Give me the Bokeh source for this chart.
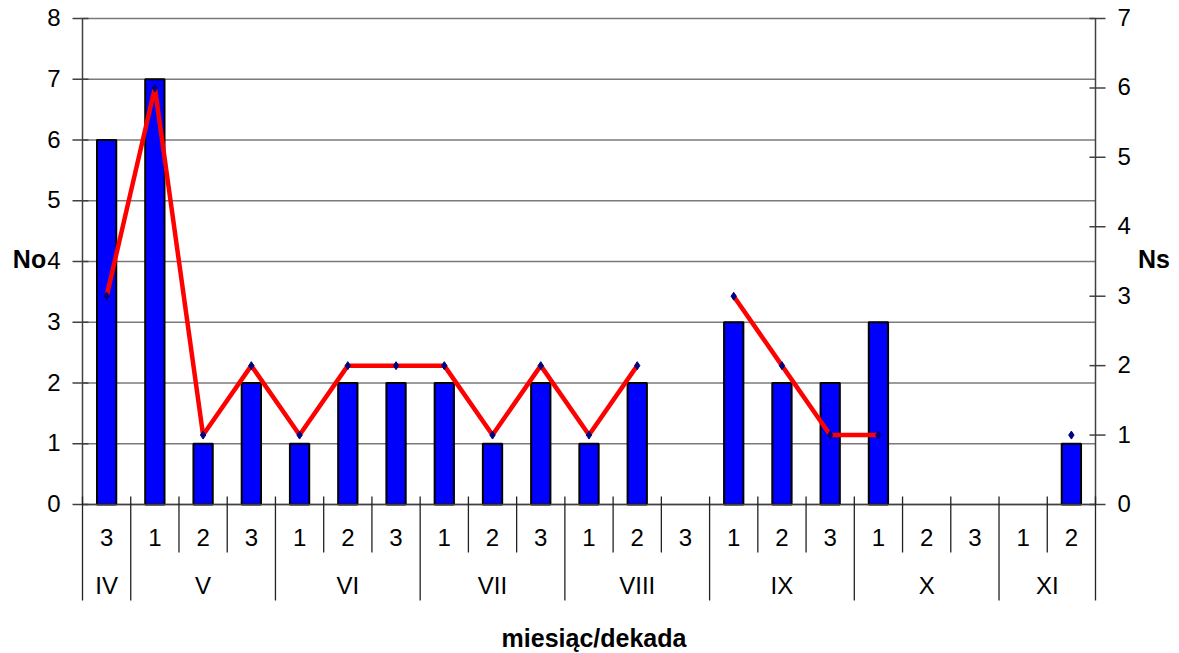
from bokeh.plotting import figure
from bokeh.models import Range1d
from bokeh.embed import file_html
from bokeh.resources import INLINE
from bokeh.core.properties import value
import numpy as np

months = ["IV", "V", "V", "V", "VI", "VI", "VI", "VII", "VII", "VII",
          "VIII", "VIII", "VIII", "IX", "IX", "IX", "X", "X", "X", "XI", "XI"]
decades = ["3", "1", "2", "3", "1", "2", "3", "1", "2", "3",
           "1", "2", "3", "1", "2", "3", "1", "2", "3", "1", "2"]
No = [6, 7, 1, 2, 1, 2, 2, 2, 1, 2, 1, 2, 0, 3, 2, 2, 3, 0, 0, 0, 1]
Ns = [3, 6, 1, 2, 1, 2, 2, 2, 1, 2, 1, 2, None, 3, 2, 1, 1, None, None, None, 1]
left_ticks = list(range(0, 9))
right_ticks = list(range(0, 8))
left_max = 8
right_max = 7

W, H = 1179, 653
n = len(months)
# layout in pixels
fx0, fx1, fy_top, fy_zero = 82, 1095, 18, 504
ux = (fx1 - fx0) / n                 # px per category
uy = (fy_zero - fy_top) / left_max   # px per left unit
uyr = (fy_zero - fy_top) / right_max # px per right unit

x_start = -fx0 / ux
x_end = (W - fx0) / ux
y_end = left_max + fy_top / uy
y_start = -(H - fy_zero) / uy
rs = right_max / left_max

FONT = "Liberation Sans"
FS = "24px"
FSB = "25px"
AX = "#404040"

p = figure(width=W, height=H, output_backend="svg", toolbar_location=None,
           x_range=Range1d(x_start, x_end), y_range=Range1d(y_start, y_end),
           x_axis_location=None, y_axis_location=None,
           min_border_left=0, min_border_right=0, min_border_top=0, min_border_bottom=0)
p.outline_line_color = None
p.grid.visible = False
p.extra_y_ranges = {"ns": Range1d(y_start * rs, y_end * rs)}

def px(d):
    return d / ux

def py(d):
    return d / uy

xc = np.arange(n) + 0.5

# gridlines
p.segment(x0=[0] * len(left_ticks), y0=left_ticks, x1=[n] * len(left_ticks), y1=left_ticks,
          line_color="#7a7a7a", line_width=1.5)

# bars
bx = [xc[i] for i in range(n) if No[i] > 0]
bt = [No[i] for i in range(n) if No[i] > 0]
p.vbar(x=bx, top=bt, bottom=0, width=0.40, fill_color="#0000FF", line_color="black", line_width=2)

# left axis
p.segment(x0=[0], y0=[0], x1=[0], y1=[left_max], line_color=AX, line_width=1.5)
p.segment(x0=[px(-10)] * len(left_ticks), y0=left_ticks, x1=[px(6)] * len(left_ticks), y1=left_ticks,
          line_color=AX, line_width=1.5)
p.text(x=[px(-22)] * len(left_ticks), y=[t + 1 / uy for t in left_ticks],
       text=[str(t) for t in left_ticks],
       text_align="right", text_baseline="middle", text_font=value(FONT), text_font_size=FS,
       text_color="black")

# right axis
p.segment(x0=[n], y0=[0], x1=[n], y1=[right_max], y_range_name="ns", line_color=AX, line_width=1.5)
p.segment(x0=[n - px(6)] * len(right_ticks), y0=right_ticks, x1=[n + px(10)] * len(right_ticks),
          y1=right_ticks, y_range_name="ns", line_color=AX, line_width=1.5)
p.text(x=[n + px(22)] * len(right_ticks), y=[t + 1 / uyr for t in right_ticks],
       text=[str(t) for t in right_ticks],
       y_range_name="ns", text_align="left", text_baseline="middle", text_font=value(FONT),
       text_font_size=FS, text_color="black")

# baseline
p.segment(x0=[0], y0=[0], x1=[n], y1=[0], line_color=AX, line_width=1.5)

# line
ns_vals = [np.nan if v is None else v for v in Ns]
p.line(x=xc, y=ns_vals, y_range_name="ns", line_color="#FF0000", line_width=4.5)
mx = [xc[i] for i in range(n) if Ns[i] is not None]
my = [Ns[i] for i in range(n) if Ns[i] is not None]
p.scatter(x=mx, y=my, y_range_name="ns", marker="diamond", size=8,
          fill_color="#000080", line_color="#000080")

# category separators
tick_top = py(8)
dec_bottom = py(-48)
mon_bottom = py(-96)
month_starts = [i for i in range(n) if i == 0 or months[i] != months[i - 1]] + [n]
sx = [b for b in range(n + 1) if b not in month_starts]
p.segment(x0=sx, y0=[tick_top] * len(sx), x1=sx, y1=[dec_bottom] * len(sx),
          line_color="#222222", line_width=1.3)
p.segment(x0=month_starts, y0=[tick_top] * len(month_starts), x1=month_starts,
          y1=[mon_bottom] * len(month_starts), line_color="#222222", line_width=1.3)

# decade labels
p.text(x=xc, y=[py(-33)] * n, text=decades, text_align="center", text_baseline="middle",
       text_font=value(FONT), text_font_size=FS, text_color="black")
# month labels
mcx = [(month_starts[k] + month_starts[k + 1]) / 2 for k in range(len(month_starts) - 1)]
mtx = [months[month_starts[k]] for k in range(len(month_starts) - 1)]
p.text(x=mcx, y=[py(-81)] * len(mcx), text=mtx, text_align="center", text_baseline="middle",
       text_font=value(FONT), text_font_size=FS, text_color="black")

# axis titles
p.text(x=[n / 2 + px(5)], y=[py(-133)], text=["miesiąc/dekada"], text_align="center",
       text_baseline="middle", text_font=value(FONT), text_font_size=FSB,
       text_font_style="bold", text_color="black")
p.text(x=[px(-53)], y=[left_max / 2 + py(3)], text=["No"], text_align="center",
       text_baseline="middle", text_font=value(FONT), text_font_size=FSB,
       text_font_style="bold", text_color="black")
p.text(x=[n + px(58.5)], y=[left_max / 2 + py(3)], text=["Ns"], text_align="center",
       text_baseline="middle", text_font=value(FONT), text_font_size=FSB,
       text_font_style="bold", text_color="black")

open("out.html", "w").write(file_html(p, INLINE))
